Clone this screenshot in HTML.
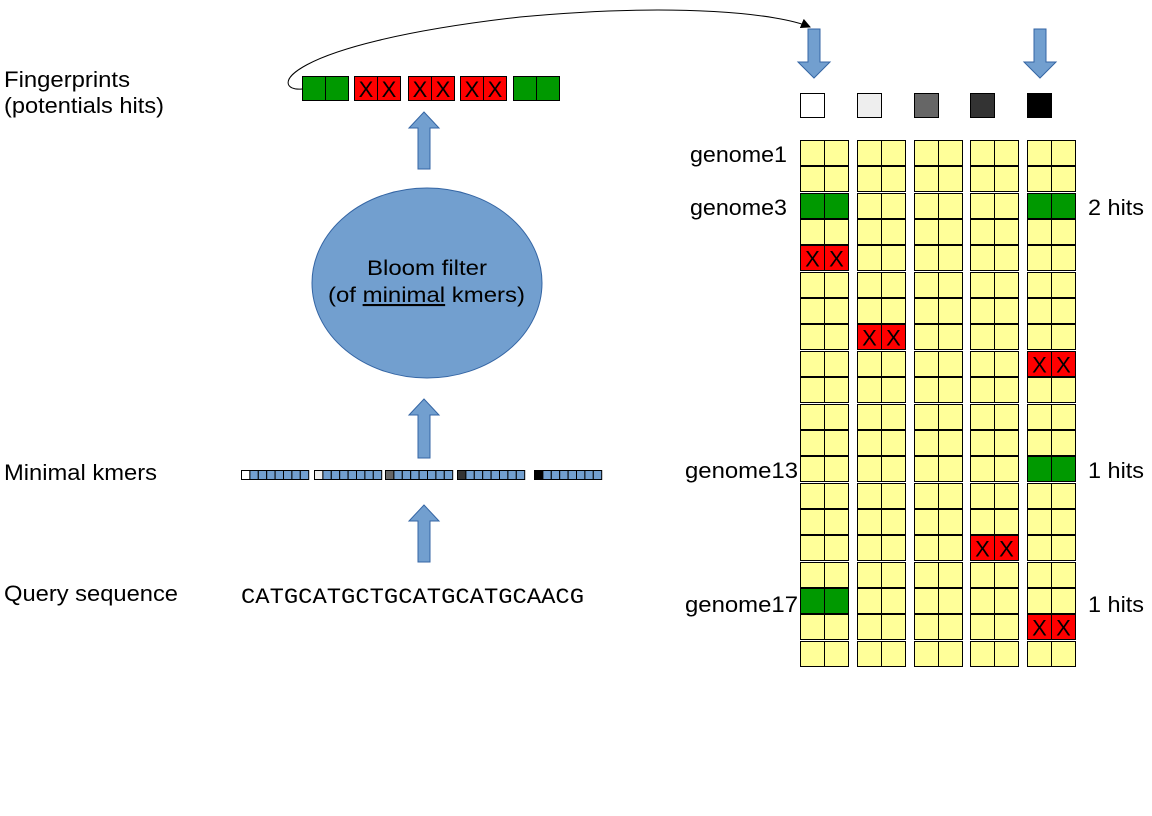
<!DOCTYPE html>
<html><head><meta charset="utf-8"><style>
html,body{margin:0;padding:0;background:#fff;}
svg{display:block;font-family:"Liberation Sans",sans-serif;}
</style></head><body>
<svg id="s" width="1152" height="816" viewBox="0 0 1152 816" xmlns="http://www.w3.org/2000/svg">
<defs>
<marker id="ah" markerWidth="10" markerHeight="10" refX="9" refY="5" orient="auto" markerUnits="userSpaceOnUse">
<path d="M0,0 L10,5 L0,10 z" fill="#000"/></marker>
</defs>
<g id="grid"></g>
<g fill="#000">
<text x="4" y="87" font-size="22" textLength="126" lengthAdjust="spacingAndGlyphs">Fingerprints</text>
<text x="4" y="113" font-size="22" textLength="160" lengthAdjust="spacingAndGlyphs">(potentials hits)</text>
<text x="4" y="480" font-size="22" textLength="153" lengthAdjust="spacingAndGlyphs">Minimal kmers</text>
<text x="4" y="601" font-size="22" textLength="174" lengthAdjust="spacingAndGlyphs">Query sequence</text>
<text x="690" y="162" font-size="22" textLength="97" lengthAdjust="spacingAndGlyphs">genome1</text>
<text x="690" y="215" font-size="22" textLength="97" lengthAdjust="spacingAndGlyphs">genome3</text>
<text x="685" y="478" font-size="22" textLength="113" lengthAdjust="spacingAndGlyphs">genome13</text>
<text x="685" y="612" font-size="22" textLength="113" lengthAdjust="spacingAndGlyphs">genome17</text>
<text x="1088" y="215" font-size="22" textLength="56" lengthAdjust="spacingAndGlyphs">2 hits</text>
<text x="1088" y="478" font-size="22" textLength="56" lengthAdjust="spacingAndGlyphs">1 hits</text>
<text x="1088" y="612" font-size="22" textLength="56" lengthAdjust="spacingAndGlyphs">1 hits</text>
</g>
<text x="241" y="603" font-family="Liberation Mono, monospace" font-size="22" textLength="343" lengthAdjust="spacingAndGlyphs">CATGCATGCTGCATGCATGCAACG</text>
<ellipse cx="427" cy="283" rx="115" ry="95" fill="#729fcf" stroke="#3465a4" stroke-width="1"/>
<text x="367" y="275" font-size="21" textLength="120" lengthAdjust="spacingAndGlyphs">Bloom filter</text>
<text x="328" y="302" font-size="21" textLength="197" lengthAdjust="spacingAndGlyphs">(of <tspan text-decoration="underline">minimal</tspan> kmers)</text>
<g fill="#729fcf" stroke="#3465a4" stroke-width="1">
<path d="M418,169 V128 H409 L424,112 L439,128 H430 V169 Z"/>
<path d="M418,458 V415 H409 L424,399 L439,415 H430 V458 Z"/>
<path d="M418,562 V521 H409 L424,505 L439,521 H430 V562 Z"/>
<path d="M808,29 V62 H798 L814,78 L830,62 H820 V29 Z"/>
<path d="M1034,29 V62 H1024 L1040,78 L1056,62 H1046 V29 Z"/>
</g>
<path d="M302,89 C270,92 275,45 520,17 C680,2 780,14 810,27" fill="none" stroke="#000" stroke-width="1" marker-end="url(#ah)"/>
<g stroke="#000" stroke-width="1">
<rect x="302.5" y="76.5" width="23" height="24" fill="#009900"/><rect x="325.5" y="76.5" width="23" height="24" fill="#009900"/>
<rect x="354.5" y="76.5" width="23" height="24" fill="#ff0000"/><rect x="377.5" y="76.5" width="23" height="24" fill="#ff0000"/>
<rect x="408.5" y="76.5" width="23" height="24" fill="#ff0000"/><rect x="431.5" y="76.5" width="23" height="24" fill="#ff0000"/>
<rect x="460.5" y="76.5" width="23" height="24" fill="#ff0000"/><rect x="483.5" y="76.5" width="23" height="24" fill="#ff0000"/>
<rect x="513.5" y="76.5" width="23" height="24" fill="#009900"/><rect x="536.5" y="76.5" width="23" height="24" fill="#009900"/>
</g>
<g font-size="22" text-anchor="middle">
<text x="366" y="97">X</text><text x="389" y="97">X</text>
<text x="420" y="97">X</text><text x="443" y="97">X</text>
<text x="472" y="97">X</text><text x="495" y="97">X</text>
</g>
<g stroke="#000" stroke-width="1">
<rect x="800.5" y="93.5" width="24" height="24" fill="#fff"/>
<rect x="857.5" y="93.5" width="24" height="24" fill="#eeeeee"/>
<rect x="914.5" y="93.5" width="24" height="24" fill="#666666"/>
<rect x="970.5" y="93.5" width="24" height="24" fill="#333333"/>
<rect x="1027.5" y="93.5" width="24" height="24" fill="#000000"/>
</g>
<g id="kmers"></g>
<g id="marks" font-size="22" text-anchor="middle"></g>
</svg>
<script>
var NS="http://www.w3.org/2000/svg";
function r(g,x,y,w,h,f){var e=document.createElementNS(NS,"rect");e.setAttribute("x",x);e.setAttribute("y",y);e.setAttribute("width",w);e.setAttribute("height",h);e.setAttribute("fill",f);e.setAttribute("stroke","#000");e.setAttribute("stroke-width","1");g.appendChild(e);}
function t(g,x,y,s){var e=document.createElementNS(NS,"text");e.setAttribute("x",x);e.setAttribute("y",y);e.textContent=s;g.appendChild(e);}
var cols=[800,857,914,970,1027];
var special={"0,2":"g","4,2":"g","0,4":"r","1,7":"r","4,8":"r","4,12":"g","3,15":"r","0,17":"g","4,18":"r"};
var G=document.getElementById("grid"),M=document.getElementById("marks");
for(var i=0;i<20;i++){var y=Math.round(140+i*26.35)+0.5;
 for(var c=0;c<5;c++){var x=cols[c]+0.5;var k=special[c+","+i];
  var f=k=="g"?"#009900":k=="r"?"#ff0000":"#ffff99";
  r(G,x,y,24,25,f);r(G,x+24,y,24,25,f);
  if(k=="r"){t(M,x+12,y+21,"X");t(M,x+36,y+21,"X");}
 }}
var K=document.getElementById("kmers");
var ks=[[241,"#fff"],[314,"#eee"],[385,"#666"],[457,"#333"],[534,"#000"]];
ks.forEach(function(k){for(var j=0;j<8;j++){r(K,k[0]+j*8.4+0.5,470.5,8.4,9,j==0?k[1]:"#729fcf");}});
</script>
</body></html>
